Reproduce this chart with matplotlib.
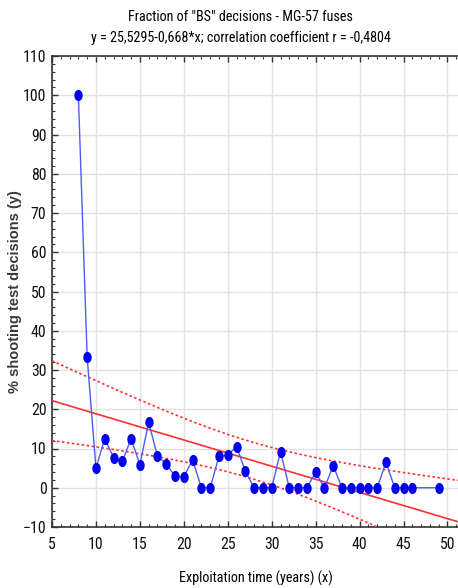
import numpy as np
import matplotlib
matplotlib.use("Agg")
import matplotlib.pyplot as plt
from matplotlib.ticker import MultipleLocator
from matplotlib import font_manager
from matplotlib.path import Path

# Exploitation time (years) and fraction of "BS" decisions (%)
years = [8, 9, 10, 11, 12, 13, 14, 15, 16, 17, 18, 19, 20, 21, 22, 23, 24, 25,
         26, 27, 28, 29, 30, 31, 32, 33, 34, 35, 36, 37, 38, 39, 40, 41, 42,
         43, 44, 45, 46, 49]
bs_fraction = [100.0, 33.3, 5.0, 12.5, 7.7, 6.7, 12.5, 5.9, 16.7, 8.0, 6.1,
               2.9, 2.8, 7.1, 0.0, 0.0, 8.0, 8.3, 10.5, 4.2, 0.0, 0.0, 0.0,
               9.2, 0.0, 0.0, 0.0, 3.9, 0.0, 5.6, 0.0, 0.0, 0.0, 0.0, 0.0,
               6.5, 0.0, 0.0, 0.0, 0.0]

intercept = 25.5295
slope = -0.668
r_coef = -0.4804

x_ticks = [5, 10, 15, 20, 25, 30, 35, 40, 45, 50]
y_ticks = [-10, 0, 10, 20, 30, 40, 50, 60, 70, 80, 90, 100, 110]

title_1 = 'Fraction of "BS" decisions - MG-57 fuses'
title_2 = "y = 25,5295-0,668*x; correlation coefficient r = -0,4804"


def pick_narrow():
    """Prefer a narrow/condensed sans face when one is installed."""
    cands = []
    for f in font_manager.fontManager.ttflist:
        key = (f.name + " " + f.fname).lower()
        if not ("narrow" in key or "condensed" in key):
            continue
        if "mono" in key or "italic" in key or "oblique" in key or f.style != "normal":
            continue
        if "serif" in key.replace("sans", ""):
            continue
        w = f.weight if isinstance(f.weight, int) else {"bold": 700}.get(f.weight, 400)
        if w >= 600 or "bold" in key or "light" in key or "thin" in key:
            continue
        if "liberation" in key:
            rank = 0
        elif "roboto" in key:
            rank = 1
        elif "dejavu" in key:
            rank = 3
        else:
            rank = 2
        cands.append((rank, f.fname))
    if cands:
        cands.sort()
        return font_manager.FontProperties(fname=cands[0][1])
    return font_manager.FontProperties(family="Liberation Sans")


fp_reg = pick_narrow()

fig = plt.figure(figsize=(4.58, 5.88), dpi=100)
ax = fig.add_axes([52 / 458, 61 / 588, 1 - 52 / 458 + 0.002, 471 / 588])

# size the narrow face from the width of the first title line
renderer = fig.canvas.get_renderer()
probe = fig.text(0, 0, title_1, fontproperties=fp_reg, fontsize=10)
w10 = probe.get_window_extent(renderer).width
probe.remove()
fs = float(np.clip(10 * 184 / w10, 8.5, 12))

xs = np.asarray(years, dtype=float)
ys = np.asarray(bs_fraction, dtype=float)

# Regression line and 95% confidence band for the mean
xx = np.linspace(5, 51.5, 200)
fit = intercept + slope * xx
n = len(xs)
pred = intercept + slope * xs
s = np.sqrt(np.sum((ys - pred) ** 2) / (n - 2))
sxx = np.sum((xs - xs.mean()) ** 2)
t_val = 2.024
half = t_val * s * np.sqrt(1 / n + (xx - xs.mean()) ** 2 / sxx)

ax.plot(xx, fit, color="#ff3030", lw=1.2, zorder=3)
ax.plot(xx, fit + half, color="#ff3030", lw=1.2, ls=(0, (1.5, 1.5)), zorder=3)
ax.plot(xx, fit - half, color="#ff3030", lw=1.2, ls=(0, (1.5, 1.5)), zorder=3)

# tall elliptical point marker
t = np.linspace(0, 2 * np.pi, 33)
ellipse = Path(np.column_stack([0.72 * np.cos(t), np.sin(t)]), closed=True)

ax.plot(xs, ys, color="#4d5cf5", lw=1.0, marker=ellipse, ms=7,
        markerfacecolor="#0000ee", markeredgecolor="#0000ee", zorder=4)

ax.set_xlim(5, 51.3)
ax.set_ylim(-10, 110)
ax.set_xticks(x_ticks)
ax.set_yticks(y_ticks)
ax.xaxis.set_minor_locator(MultipleLocator(1))
ax.yaxis.set_minor_locator(MultipleLocator(2))
ax.grid(True, which="major", color="#e2e2e2", lw=1.0, zorder=0)
ax.set_axisbelow(True)

ax.tick_params(which="both", direction="in", top=True, right=False,
               colors="#333333", labelcolor="#111111")
ax.tick_params(which="major", length=4, width=1.0)
ax.tick_params(which="minor", length=2, width=0.8)
ax.tick_params(axis="x", pad=7)
ax.tick_params(axis="y", pad=4)
for lab in ax.get_xticklabels() + ax.get_yticklabels():
    lab.set_fontproperties(fp_reg)
    lab.set_fontsize(fs * 1.35)

for side in ("left", "bottom", "top"):
    ax.spines[side].set_color("#333333")
    ax.spines[side].set_linewidth(1.2)
ax.spines["right"].set_visible(False)

ax.set_xlabel("Exploitation time (years) (x)", fontproperties=fp_reg, fontsize=fs * 1.2)
ax.xaxis.set_label_coords(0.5, -0.092)
ax.set_ylabel("% shooting test decisions (y)", family="Liberation Sans",
              fontsize=10.5, fontweight="bold", color="#3a3a3a")
ax.yaxis.set_label_coords(-0.073, 0.5)

fig.text(0.525, 0.983, title_1, ha="center", va="top",
         fontproperties=fp_reg, fontsize=fs * 1.2)
fig.text(0.525, 0.947, title_2, ha="center", va="top",
         fontproperties=fp_reg, fontsize=fs * 1.2)

fig.savefig("out.png", dpi=100)
